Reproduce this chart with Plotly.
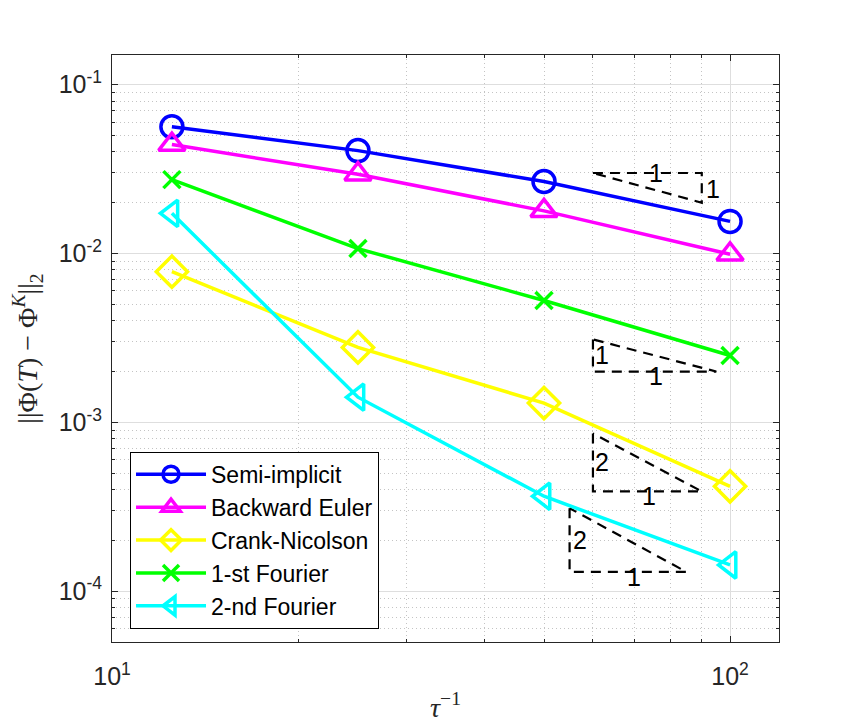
import math
import plotly.graph_objects as go

# data
inv_tau = [12.5, 25, 50, 100]
semi_implicit = [0.0564, 0.0407, 0.0267, 0.0155]
backward_euler = [0.0442, 0.0295, 0.0179, 0.0099]
crank_nicolson = [0.00781, 0.00278, 0.00130, 0.000418]
fourier_1st = [0.0274, 0.0107, 0.00527, 0.00249]
fourier_2nd = [0.0173, 0.00141, 0.000365, 0.000143]
names = ["Semi-implicit", "Backward Euler", "Crank-Nicolson", "1-st Fourier", "2-nd Fourier"]

# reference slope triangles (x, y corners)
tri1_x = [60, 90, 90, 60]
tri1_y = [0.030, 0.030, 0.020, 0.030]
tri2_x = [60, 60, 95, 60]
tri2_y = [0.0031, 0.0020, 0.0020, 0.0031]
tri3_x = [60, 60, 90, 60]
tri3_y = [0.00086, 0.00039, 0.00039, 0.00086]
tri4_x = [55, 55, 85, 55]
tri4_y = [0.00031, 0.000130, 0.000130, 0.00031]

# labels of the triangles
lab_x = [76, 94, 62, 76, 62, 74, 57.2, 70]
lab_y = [0.0300, 0.0240, 0.00250, 0.00188, 0.00058, 0.000365, 0.000200, 0.000122]
lab_txt = ["1", "1", "1", "1", "2", "1", "2", "1"]

# styles
colors = ["#0000ff", "#ff00ff", "#ffff00", "#00ff00", "#00ffff"]
symbols = ["circle-open", "triangle-up-open", "diamond-open", "x-thin-open", "triangle-left-open"]
msizes = [22, 23, 24, 17, 23]

fig = go.Figure()

for tx, ty in [(tri1_x, tri1_y), (tri2_x, tri2_y), (tri3_x, tri3_y), (tri4_x, tri4_y)]:
    fig.add_trace(go.Scatter(x=tx, y=ty, mode="lines", showlegend=False,
                             line=dict(color="black", width=2.2, dash="10px,7px")))

all_vals = [semi_implicit, backward_euler, crank_nicolson, fourier_1st, fourier_2nd]
for name, vals, col, sym, ms in zip(names, all_vals, colors, symbols, msizes):
    fig.add_trace(go.Scatter(
        x=inv_tau, y=vals, name=name, mode="lines+markers",
        line=dict(color=col, width=3.5),
        marker=dict(symbol=sym, size=ms, color=col, line=dict(color=col, width=3.5)),
    ))

for x, y, t in zip(lab_x, lab_y, lab_txt):
    fig.add_annotation(x=math.log10(x), y=math.log10(y), text=t, showarrow=False,
                       font=dict(family="Liberation Sans", size=25, color="black"))

axis_common = dict(
    type="log", showline=True, linecolor="#262626", linewidth=1, mirror="allticks",
    ticks="inside", ticklen=6, tickcolor="#262626",
    showgrid=True, gridcolor="#dedede", gridwidth=1, zeroline=False,
    tickfont=dict(family="Liberation Sans", size=25, color="#262626"),
    minor=dict(dtick="D1", ticks="inside", ticklen=3, tickcolor="#262626",
               showgrid=True, gridcolor="#c4c4c4", griddash="1px,3px"),
)

fig.update_xaxes(
    range=[1, 2.0792], tickvals=[10, 100],
    ticktext=["10<sup>1</sup>", "10<sup>2</sup>"],
    ticklabelstandoff=12,
    title=dict(text="<i>τ</i><sup>−1</sup>", standoff=8,
               font=dict(family="Liberation Serif", size=28, color="#262626")),
    **axis_common,
)
fig.update_yaxes(
    range=[-4.301, -0.824], tickvals=[1e-4, 1e-3, 1e-2, 1e-1],
    ticktext=["10<sup>-4</sup>", "10<sup>-3</sup>", "10<sup>-2</sup>", "10<sup>-1</sup>"],
    ticklabelstandoff=4,
    title=dict(text="||Φ(<i>T</i>) − Φ<sup><i>K</i></sup>||<sub>2</sub>", standoff=16,
               font=dict(family="Liberation Serif", size=28, color="#262626")),
    **axis_common,
)

fig.update_layout(
    width=862, height=728,
    margin=dict(l=104, r=91, t=47, b=94),
    paper_bgcolor="white", plot_bgcolor="white",
    legend=dict(x=0.027, y=0.324, xanchor="left", yanchor="top",
                bgcolor="white", bordercolor="black", borderwidth=1,
                font=dict(family="Liberation Sans", size=23, color="black"),
                itemwidth=70, tracegroupgap=0),
)

fig.write_html("out.html")
